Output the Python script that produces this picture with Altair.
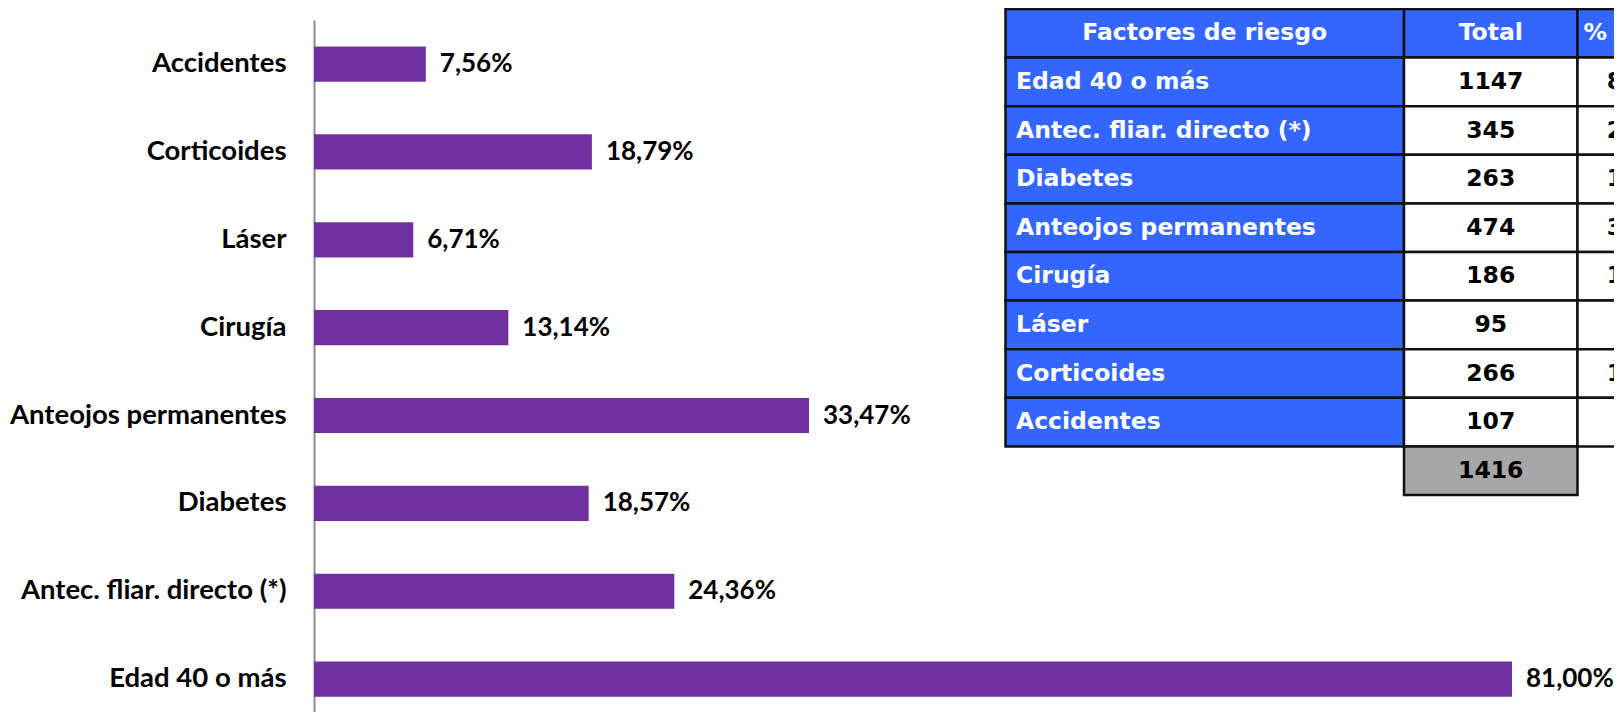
import altair as alt
import pandas as pd

# ---- data ----
factores = ["Edad 40 o más", "Antec. fliar. directo (*)", "Diabetes", "Anteojos permanentes",
            "Cirugía", "Láser", "Corticoides", "Accidentes"]
totales = [1147, 345, 263, 474, 186, 95, 266, 107]
porcentajes = [81.00, 24.36, 18.57, 33.47, 13.14, 6.71, 18.79, 7.56]
total_pacientes = 1416
encabezados = ["Factores de riesgo", "Total", "%"]

# ---- layout constants ----
W, H = 1300, 692
PURPLE = "#7030A0"
BLUE = "#3366FF"
GREY = "#A6A6A6"
LABEL_FONT = "Lato"
TABLE_FONT = "DejaVu Sans"
COL_X = [691.5, 1090, 1263.5, 1440]          # table column edges (plot px)
ROW_RANGE = [-11, 475]                       # table rows span (plot px)

def fmt(v):
    return f"{v:.2f}".replace(".", ",") + "%"

# ---- bar chart ----
df = pd.DataFrame({"factor": factores, "pct": porcentajes})
df["label"] = [fmt(v) for v in porcentajes]
orden = factores[::-1]

y_enc = alt.Y("factor:N", sort=orden, title=None,
              scale=alt.Scale(paddingInner=0.6, paddingOuter=0.2379, align=0.634),
              axis=alt.Axis(domainColor="#8c8c8c", domainWidth=2, ticks=False, grid=False,
                            labelFont=LABEL_FONT, labelFontWeight="bold", labelFontSize=27.5,
                            labelColor="black", labelPadding=28, labelLimit=500))
x_enc = alt.X("pct:Q", title=None, axis=None,
              scale=alt.Scale(domain=[0, W / 14.79], nice=False, zero=True))

bars = alt.Chart(df).mark_bar(color=PURPLE).encode(x=x_enc, y=y_enc)
labels = alt.Chart(df).mark_text(align="left", baseline="middle", dx=14, font=LABEL_FONT,
                                 fontWeight="bold", fontSize=26, color="black").encode(
    x=x_enc, y=y_enc, text="label:N")
bar_layer = alt.layer(bars, labels)

# ---- table ----
rows = []
for j, h in enumerate(encabezados):
    rows.append({"fila": 0, "col": j, "txt": h, "fill": BLUE, "tc": "white"})
for i, (f, t, p) in enumerate(zip(factores, totales, porcentajes), start=1):
    rows.append({"fila": i, "col": 0, "txt": f, "fill": BLUE, "tc": "white"})
    rows.append({"fila": i, "col": 1, "txt": str(t), "fill": "white", "tc": "black"})
    rows.append({"fila": i, "col": 2, "txt": fmt(p), "fill": "white", "tc": "black"})
rows.append({"fila": 9, "col": 1, "txt": str(total_pacientes), "fill": GREY, "tc": "black"})
tdf = pd.DataFrame(rows)

ty = alt.Y("fila:O", axis=None, title=None,
           scale=alt.Scale(domain=list(range(10)), range=ROW_RANGE, paddingInner=0, paddingOuter=0))

base_t = alt.Chart(tdf)
table_layers = []
for j in range(3):
    table_layers.append(
        base_t.transform_filter(alt.datum.col == j).mark_rect(stroke="#111111", strokeWidth=2.5).encode(
            x=alt.value(COL_X[j]), x2=alt.value(COL_X[j + 1]), y=ty,
            fill=alt.Color("fill:N", scale=None)))

def text_layer(filt, x, align):
    return base_t.transform_filter(filt).mark_text(
        align=align, baseline="middle", font=TABLE_FONT, fontWeight="bold", fontSize=23.5).encode(
        x=alt.value(x), y=ty, text="txt:N", color=alt.Color("tc:N", scale=None))

table_layers += [
    text_layer((alt.datum.col == 0) & (alt.datum.fila == 0), (COL_X[0] + COL_X[1]) / 2, "center"),
    text_layer((alt.datum.col == 0) & (alt.datum.fila > 0), COL_X[0] + 10.5, "left"),
    text_layer(alt.datum.col == 1, (COL_X[1] + COL_X[2]) / 2, "center"),
    text_layer((alt.datum.col == 2) & (alt.datum.fila == 0), COL_X[2] + 6, "left"),
    text_layer((alt.datum.col == 2) & (alt.datum.fila > 0), (COL_X[2] + COL_X[3]) / 2 - 10, "center"),
]
table_layer = alt.layer(*table_layers)

chart = alt.layer(bar_layer, table_layer).resolve_scale(
    x="independent", y="independent", color="independent"
).properties(
    width=W, height=H,
    autosize=alt.AutoSizeParams(type="none"),
    padding={"left": 306, "top": 12, "right": 0, "bottom": 0},
).configure_view(stroke=None)

chart.save("out.html", embed_options={"renderer": "svg", "actions": False})
